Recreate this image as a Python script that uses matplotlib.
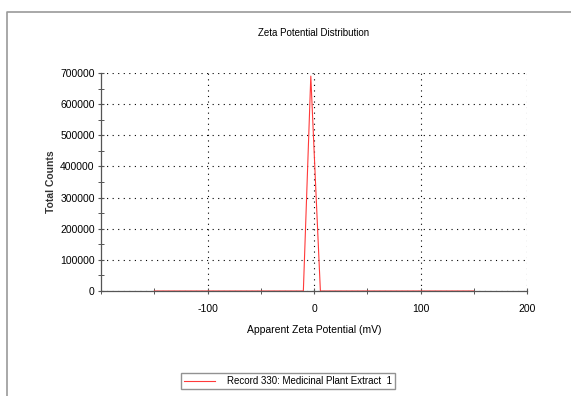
import matplotlib
matplotlib.use("Agg")
import matplotlib.pyplot as plt
from matplotlib.lines import Line2D
from matplotlib.ticker import MultipleLocator

# zeta potential (mV) vs total counts
zeta_mv = [-150, -10, -3, 1, 6, 150]
counts = [0, 0, 690000, 380000, 0, 0]
record_label = "Record 330: Medicinal Plant Extract  1"

plt.rcParams["font.family"] = ["Liberation Sans", "DejaVu Sans"]

fig = plt.figure(figsize=(5.71, 3.96), dpi=100)
ax = fig.add_axes([101 / 571, 1 - 291 / 396, (527 - 101) / 571, (291 - 73) / 396])

# grey report frame
fig.add_artist(Line2D([7 / 571, 7 / 571, 1], [0, 1 - 12 / 396, 1 - 12 / 396],
                      transform=fig.transFigure, color="#9a9a9a", lw=1.2))

line, = ax.plot(zeta_mv, counts, color="#ff3a3a", lw=0.8)

ax.set_xlim(-200, 200)
ax.set_ylim(0, 700000)
ax.xaxis.set_major_locator(MultipleLocator(100))
ax.xaxis.set_minor_locator(MultipleLocator(50))
ax.yaxis.set_major_locator(MultipleLocator(100000))
ax.yaxis.set_minor_locator(MultipleLocator(50000))
ax.set_xticks([-100, 0, 100, 200])
ax.set_xticklabels(["-100", "0", "100", "200"])

for s in ["top", "right"]:
    ax.spines[s].set_visible(False)
for s in ["left", "bottom"]:
    ax.spines[s].set_color("#555555")
    ax.spines[s].set_linewidth(0.9)

ax.tick_params(which="major", direction="inout", length=5, width=0.8,
               color="#555555", labelsize=7.5, pad=2)
ax.tick_params(which="minor", direction="inout", length=4, width=0.7, color="#555555")
ax.tick_params(axis="x", which="major", pad=7)

ax.grid(True, which="major", color="black", linestyle=(0, (1, 4)), lw=0.8)
ax.set_axisbelow(True)

ax.set_title("Zeta Potential Distribution", fontsize=7, pad=27)
ax.set_xlabel("Apparent Zeta Potential (mV)", fontsize=7.5, labelpad=8)
ax.set_ylabel("Total Counts", fontsize=7.5, fontweight="bold", labelpad=3, color="#333333")

fig.legend([line], [record_label], loc="center",
           bbox_to_anchor=(288 / 571, 1 - 381 / 396), fontsize=7,
           frameon=True, fancybox=False, edgecolor="#777777",
           handlelength=3.2, borderpad=0.35, handletextpad=1.2)

fig.savefig("out.png", dpi=100)
